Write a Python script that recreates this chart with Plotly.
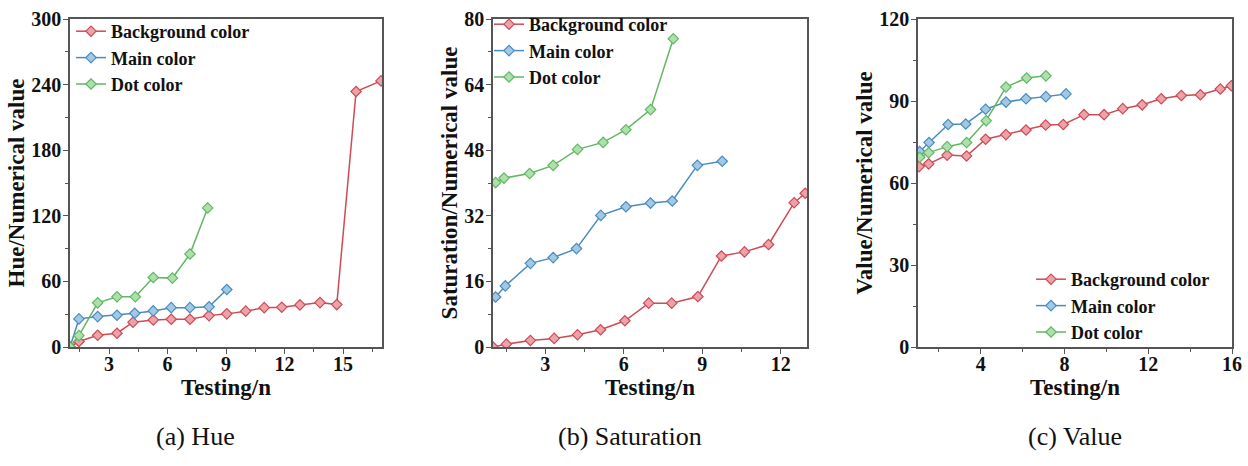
import plotly.graph_objects as go
from plotly.subplots import make_subplots

# ---------------- data ----------------
series_names = ["Background color", "Main color", "Dot color"]
series_colors = ["#cf4a55", "#4a8cc0", "#62b862"]
series_fill = ["#eaa3a8", "#a3c8e4", "#ade0ad"]

# (a) Hue
hue_bg_x = [1.0, 1.46, 2.42, 3.41, 4.23, 5.27, 6.19, 7.15, 8.13, 9.04, 10.01, 10.96, 11.86, 12.79, 13.82, 14.68, 15.67, 16.95]
hue_bg_y = [0, 5, 10.7, 12.6, 22.7, 24.8, 25.4, 25.4, 28.7, 30.3, 32.8, 36, 36.4, 38.5, 40.6, 38.8, 233.7, 243.4]
hue_main_x = [1.0, 1.46, 2.42, 3.41, 4.32, 5.27, 6.19, 7.15, 8.13, 9.04]
hue_main_y = [0, 25.7, 27.8, 29.1, 30.9, 33, 36, 36, 36.7, 52.6]
hue_dot_x = [1.0, 1.46, 2.42, 3.41, 4.35, 5.27, 6.25, 7.15, 8.06]
hue_dot_y = [0, 10.4, 40.4, 45.9, 45.9, 63.6, 63, 85, 127.2]

# (b) Saturation
sat_bg_x = [1.0, 1.51, 2.43, 3.34, 4.23, 5.11, 6.04, 6.95, 7.83, 8.83, 9.73, 10.61, 11.53, 12.51, 12.93]
sat_bg_y = [0, 0.7, 1.6, 2.1, 3.0, 4.2, 6.4, 10.7, 10.7, 12.3, 22.2, 23.2, 25.0, 35.2, 37.5]
sat_main_x = [1.1, 1.47, 2.43, 3.30, 4.19, 5.12, 6.08, 7.02, 7.85, 8.81, 9.76]
sat_main_y = [12.2, 14.9, 20.4, 21.8, 24.0, 32.1, 34.2, 35.1, 35.6, 44.3, 45.3]
sat_dot_x = [1.1, 1.42, 2.40, 3.30, 4.23, 5.21, 6.08, 7.02, 7.89]
sat_dot_y = [40.1, 41.2, 42.3, 44.3, 48.2, 49.9, 53.0, 57.9, 75.2]

# (c) Value
val_bg_x = [1.05, 1.51, 2.39, 3.32, 4.23, 5.20, 6.16, 7.10, 7.94, 8.93, 9.89, 10.78, 11.71, 12.62, 13.58, 14.49, 15.44, 15.97]
val_bg_y = [66, 67, 70.2, 69.9, 76, 77.7, 79.4, 81.2, 81.4, 85, 85, 87.2, 88.6, 90.8, 92, 92.3, 94.4, 95.6]
val_main_x = [1.08, 1.53, 2.44, 3.28, 4.23, 5.20, 6.16, 7.11, 8.07]
val_main_y = [71.5, 74.8, 81.4, 81.6, 87, 89.6, 90.8, 91.6, 92.6]
val_dot_x = [1.08, 1.51, 2.39, 3.32, 4.26, 5.20, 6.19, 7.11]
val_dot_y = [69.4, 71.1, 73.3, 74.8, 82.8, 95.1, 98.4, 99.2]

y_titles = ["Hue/Numerical value", "Saturation/Numerical value", "Value/Numerical value"]
x_title = "Testing/n"
captions = ["(a) Hue", "(b) Saturation", "(c) Value"]

panels = [
    [(hue_bg_x, hue_bg_y), (hue_main_x, hue_main_y), (hue_dot_x, hue_dot_y)],
    [(sat_bg_x, sat_bg_y), (sat_main_x, sat_main_y), (sat_dot_x, sat_dot_y)],
    [(val_bg_x, val_bg_y), (val_main_x, val_main_y), (val_dot_x, val_dot_y)],
]

x_ranges = [[1, 17], [1, 13], [1, 16]]
x_dticks = [3, 3, 4]
y_ranges = [[0, 300], [0, 80], [0, 120]]
y_dticks = [60, 16, 30]

# ---------------- layout geometry ----------------
W, H = 1248, 466
x_px = [(70, 382), (493, 807), (918, 1232)]
y_top_px, y_bot_px = 19, 347

fig = make_subplots(rows=1, cols=3)

legend_keys = ["legend", "legend2", "legend3"]
for p, series in enumerate(panels):
    for s, (xs, ys) in enumerate(series):
        fig.add_trace(
            go.Scatter(
                x=xs, y=ys, mode="lines+markers", name=series_names[s],
                line=dict(color=series_colors[s], width=1.5),
                marker=dict(symbol="diamond", size=8, color=series_fill[s],
                            line=dict(color=series_colors[s], width=1.2)),
                legend=legend_keys[p], showlegend=True,
            ),
            row=1, col=p + 1,
        )

serif = "Liberation Serif, Times New Roman, serif"
axis_col = "#555555"
for p in range(3):
    xa = "xaxis" if p == 0 else f"xaxis{p+1}"
    ya = "yaxis" if p == 0 else f"yaxis{p+1}"
    x0, x1 = x_px[p]
    fig.layout[xa].update(
        domain=[x0 / W, x1 / W], range=x_ranges[p], tick0=0, dtick=x_dticks[p],
        automargin=False,
        showgrid=False, zeroline=False, showline=True, mirror=True,
        linecolor=axis_col, linewidth=1.5, ticks="outside", ticklen=5,
        tickcolor=axis_col, tickwidth=1.2, ticklabelstandoff=-7,
        minor=dict(ticks="outside", ticklen=3, dtick=x_dticks[p] / 2,
                   tickcolor=axis_col, tickwidth=1, tick0=0),
        tickfont=dict(family=serif, size=20, color="#111", weight="bold"),
        title=dict(text=x_title, standoff=0,
                   font=dict(family=serif, size=23, color="#111", weight="bold")),
    )
    fig.layout[ya].update(
        domain=[1 - y_bot_px / H, 1 - y_top_px / H], range=y_ranges[p],
        tick0=0, dtick=y_dticks[p], automargin=False,
        showgrid=False, zeroline=False, showline=True, mirror=True,
        linecolor=axis_col, linewidth=1.5, ticks="outside", ticklen=5,
        tickcolor=axis_col, tickwidth=1.2, ticklabelstandoff=-2,
        minor=dict(ticks="outside", ticklen=3, dtick=y_dticks[p] / 2,
                   tickcolor=axis_col, tickwidth=1, tick0=0),
        tickfont=dict(family=serif, size=20, color="#111", weight="bold"),
        title=dict(text=y_titles[p], standoff=0,
                   font=dict(family=serif, size=23, color="#111", weight="bold")),
    )

legend_common = dict(
    font=dict(family=serif, size=18, color="#111", weight="bold"),
    bgcolor="rgba(0,0,0,0)", borderwidth=0, tracegroupgap=0,
    xanchor="left", yanchor="top", itemwidth=30,
)
fig.update_layout(
    width=W, height=H,
    margin=dict(l=0, r=0, t=0, b=0, autoexpand=False),
    paper_bgcolor="white", plot_bgcolor="white",
    legend=dict(x=71 / W, y=1 - 13 / H, **legend_common),
    legend2=dict(x=489 / W, y=1 - 6 / H, **legend_common),
    legend3=dict(x=1031 / W, y=1 - 261 / H, **legend_common),
)

caption_x = [195, 630, 1075]
for i, c in enumerate(captions):
    fig.add_annotation(
        text=c, x=caption_x[i] / W, y=1 - 436 / H, xref="paper", yref="paper",
        showarrow=False, xanchor="center", yanchor="middle",
        font=dict(family=serif, size=26, color="#111"),
    )

fig.write_html("out.html", config={"displayModeBar": False},
               post_script="document.body.style.margin='0px';")
